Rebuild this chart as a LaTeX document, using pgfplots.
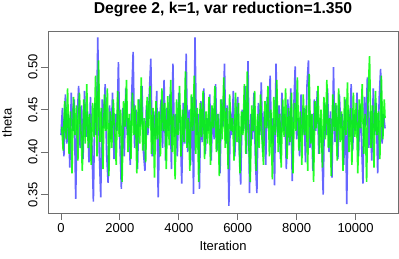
\documentclass[border=0pt]{standalone}
\usepackage{pgfplots}
\pgfplotsset{compat=1.18}
\usepackage{fontspec}
\setmainfont{Liberation Sans}
\definecolor{axgray}{RGB}{110,110,110}
\begin{document}
\begin{tikzpicture}[x=1pt,y=1pt]
\path[use as bounding box] (0,0) rectangle (399,259);
\begin{axis}[
  at={(48pt,46pt)}, anchor=south west,
  scale only axis, width=350pt, height=182pt,
  xmin=-440, xmax=11440, ymin=0.3285, ymax=0.5425,
  axis line style={draw=axgray, line width=0.8pt},
  tick style={draw=axgray, line width=0.8pt},
  tick align=outside, major tick length=7pt,
  xtick pos=left, ytick pos=left,
  xtick={0,2000,4000,6000,8000,10000},
  ytick={0.35,0.40,0.45,0.50},
  scaled x ticks=false, scaled y ticks=false,
  /pgf/number format/assume math mode=true,
  xticklabel={\pgfmathprintnumber[fixed,1000 sep={}]{\tick}},
  yticklabel={\pgfmathprintnumber[fixed,fixed zerofill,precision=2]{\tick}},
  ticklabel style={font=\fontsize{13}{13}\selectfont, text=black},
  yticklabel style={rotate=90, anchor=south},
  xticklabel style={anchor=north},
]
\addplot[draw=blue, opacity=0.6, line width=1.6pt, line join=bevel] coordinates {
(0,0.420)(50,0.452)(100,0.395)(150,0.468)(200,0.410)(250,0.445)(300,0.382)(350,0.470)(400,0.425)(450,0.462)
(500,0.345)(550,0.440)(600,0.478)(650,0.405)(700,0.455)(750,0.392)(800,0.472)(850,0.418)(900,0.448)(950,0.388)
(1000,0.465)(1050,0.410)(1100,0.342)(1150,0.458)(1200,0.420)(1250,0.535)(1300,0.400)(1350,0.347)(1400,0.462)(1450,0.428)
(1500,0.480)(1550,0.398)(1600,0.364)(1650,0.455)(1700,0.415)(1750,0.470)(1800,0.392)(1850,0.445)(1900,0.425)(1950,0.506)
(2000,0.410)(2050,0.357)(2100,0.452)(2150,0.395)(2200,0.475)(2250,0.420)(2300,0.440)(2350,0.385)(2400,0.466)(2450,0.518)
(2500,0.405)(2550,0.450)(2600,0.380)(2650,0.462)(2700,0.430)(2750,0.478)(2800,0.400)(2850,0.378)(2900,0.455)(2950,0.420)
(3000,0.470)(3050,0.510)(3100,0.395)(3150,0.448)(3200,0.415)(3250,0.472)(3300,0.347)(3350,0.438)(3400,0.462)(3450,0.405)
(3500,0.485)(3550,0.390)(3600,0.452)(3650,0.425)(3700,0.468)(3750,0.380)(3800,0.504)(3850,0.418)(3900,0.445)(3950,0.395)
(4000,0.470)(4050,0.428)(4100,0.363)(4150,0.458)(4200,0.410)(4250,0.516)(4300,0.400)(4350,0.450)(4400,0.385)(4450,0.465)
(4500,0.351)(4550,0.535)(4600,0.420)(4650,0.445)(4700,0.357)(4750,0.460)(4800,0.412)(4850,0.475)(4900,0.398)(4950,0.440)
(5000,0.425)(5050,0.468)(5100,0.390)(5150,0.452)(5200,0.415)(5250,0.480)(5300,0.402)(5350,0.445)(5400,0.375)(5450,0.462)
(5500,0.430)(5550,0.504)(5600,0.410)(5650,0.455)(5700,0.337)(5750,0.448)(5800,0.420)(5850,0.472)(5900,0.395)(5950,0.440)
(6000,0.465)(6050,0.405)(6100,0.362)(6150,0.450)(6200,0.425)(6250,0.478)(6300,0.398)(6350,0.507)(6400,0.352)(6450,0.445)
(6500,0.415)(6550,0.470)(6600,0.390)(6650,0.352)(6700,0.458)(6750,0.420)(6800,0.482)(6850,0.400)(6900,0.448)(6950,0.385)
(7000,0.465)(7050,0.428)(7100,0.490)(7150,0.410)(7200,0.440)(7250,0.361)(7300,0.504)(7350,0.418)(7400,0.455)(7450,0.392)
(7500,0.470)(7550,0.425)(7600,0.445)(7650,0.380)(7700,0.462)(7750,0.408)(7800,0.475)(7850,0.366)(7900,0.450)(7950,0.501)
(8000,0.415)(8050,0.440)(8100,0.395)(8150,0.468)(8200,0.420)(8250,0.452)(8300,0.388)(8350,0.478)(8400,0.508)(8450,0.405)
(8500,0.445)(8550,0.378)(8600,0.462)(8650,0.425)(8700,0.472)(8750,0.398)(8800,0.440)(8850,0.415)(8900,0.350)(8950,0.458)
(9000,0.420)(9050,0.475)(9100,0.400)(9150,0.448)(9200,0.370)(9250,0.500)(9300,0.412)(9350,0.455)(9400,0.392)(9450,0.468)
(9500,0.428)(9550,0.445)(9600,0.385)(9650,0.462)(9700,0.339)(9750,0.450)(9800,0.418)(9850,0.480)(9900,0.402)(9950,0.445)
(10000,0.425)(10050,0.470)(10100,0.395)(10150,0.455)(10200,0.415)(10250,0.363)(10300,0.465)(10350,0.430)(10400,0.488)(10450,0.405)
(10500,0.448)(10550,0.390)(10600,0.475)(10650,0.420)(10700,0.458)(10750,0.375)(10800,0.462)(10850,0.498)(10900,0.410)(10950,0.445)
(11000,0.428)
};
\addplot[draw=green, opacity=0.85, line width=1.6pt, line join=bevel] coordinates {
(25,0.430)(75,0.402)(125,0.460)(175,0.415)(225,0.475)(275,0.398)(325,0.448)(375,0.375)(425,0.465)(475,0.420)
(525,0.455)(575,0.390)(625,0.470)(675,0.428)(725,0.378)(775,0.462)(825,0.410)(875,0.480)(925,0.405)(975,0.445)
(1025,0.385)(1075,0.458)(1125,0.418)(1175,0.490)(1225,0.395)(1275,0.508)(1325,0.412)(1375,0.452)(1425,0.380)(1475,0.468)
(1525,0.425)(1575,0.475)(1625,0.372)(1675,0.448)(1725,0.405)(1775,0.462)(1825,0.428)(1875,0.385)(1925,0.472)(1975,0.418)
(2025,0.450)(2075,0.365)(2125,0.460)(2175,0.430)(2225,0.485)(2275,0.400)(2325,0.445)(2375,0.392)(2425,0.470)(2475,0.420)
(2525,0.455)(2575,0.375)(2625,0.462)(2675,0.410)(2725,0.488)(2775,0.402)(2825,0.440)(2875,0.388)(2925,0.465)(2975,0.428)
(3025,0.478)(3075,0.398)(3125,0.452)(3175,0.370)(3225,0.460)(3275,0.415)(3325,0.448)(3375,0.395)(3425,0.475)(3475,0.425)
(3525,0.458)(3575,0.380)(3625,0.466)(3675,0.408)(3725,0.485)(3775,0.400)(3825,0.445)(3875,0.368)(3925,0.462)(3975,0.420)
(4025,0.478)(4075,0.395)(4125,0.450)(4175,0.412)(4225,0.495)(4275,0.405)(4325,0.440)(4375,0.378)(4425,0.468)(4475,0.425)
(4525,0.490)(4575,0.398)(4625,0.452)(4675,0.365)(4725,0.458)(4775,0.418)(4825,0.472)(4875,0.392)(4925,0.448)(4975,0.410)
(5025,0.465)(5075,0.385)(5125,0.455)(5175,0.428)(5225,0.478)(5275,0.400)(5325,0.445)(5375,0.372)(5425,0.462)(5475,0.415)
(5525,0.488)(5575,0.405)(5625,0.452)(5675,0.380)(5725,0.468)(5775,0.425)(5825,0.440)(5875,0.390)(5925,0.470)(5975,0.412)
(6025,0.458)(6075,0.375)(6125,0.448)(6175,0.420)(6225,0.480)(6275,0.398)(6325,0.495)(6375,0.410)(6425,0.365)(6475,0.455)
(6525,0.425)(6575,0.472)(6625,0.378)(6675,0.445)(6725,0.405)(6775,0.468)(6825,0.415)(6875,0.385)(6925,0.460)(6975,0.428)
(7025,0.478)(7075,0.395)(7125,0.450)(7175,0.368)(7225,0.465)(7275,0.420)(7325,0.485)(7375,0.400)(7425,0.445)(7475,0.382)
(7525,0.462)(7575,0.418)(7625,0.475)(7675,0.392)(7725,0.452)(7775,0.412)(7825,0.470)(7875,0.375)(7925,0.458)(7975,0.425)
(8025,0.488)(8075,0.402)(8125,0.448)(8175,0.385)(8225,0.468)(8275,0.420)(8325,0.455)(8375,0.378)(8425,0.492)(8475,0.410)
(8525,0.445)(8575,0.365)(8625,0.460)(8675,0.428)(8725,0.478)(8775,0.398)(8825,0.450)(8875,0.382)(8925,0.465)(8975,0.415)
(9025,0.485)(9075,0.405)(9125,0.440)(9175,0.372)(9225,0.468)(9275,0.425)(9325,0.458)(9375,0.390)(9425,0.475)(9475,0.412)
(9525,0.448)(9575,0.378)(9625,0.465)(9675,0.420)(9725,0.482)(9775,0.400)(9825,0.452)(9875,0.385)(9925,0.470)(9975,0.418)
(10025,0.458)(10075,0.375)(10125,0.462)(10175,0.428)(10225,0.480)(10275,0.398)(10325,0.445)(10375,0.365)(10425,0.468)(10475,0.513)
(10525,0.405)(10575,0.455)(10625,0.382)(10675,0.472)(10725,0.420)(10775,0.448)(10825,0.392)(10875,0.490)(10925,0.415)(10975,0.462)
(11000,0.440)
};
\draw[axgray, line width=0.8pt] (rel axis cs:0,0) rectangle (rel axis cs:1,1);
\end{axis}
\node[anchor=base, font=\fontsize{15.7}{15.7}\selectfont\bfseries] at (223,245.5) {Degree 2, k=1, var reduction=1.350};
\node[anchor=base, font=\fontsize{13}{13}\selectfont] at (223,8.3) {Iteration};
\node[anchor=base, rotate=90, font=\fontsize{13}{13}\selectfont] at (11.7,136) {theta};
\end{tikzpicture}
\end{document}
